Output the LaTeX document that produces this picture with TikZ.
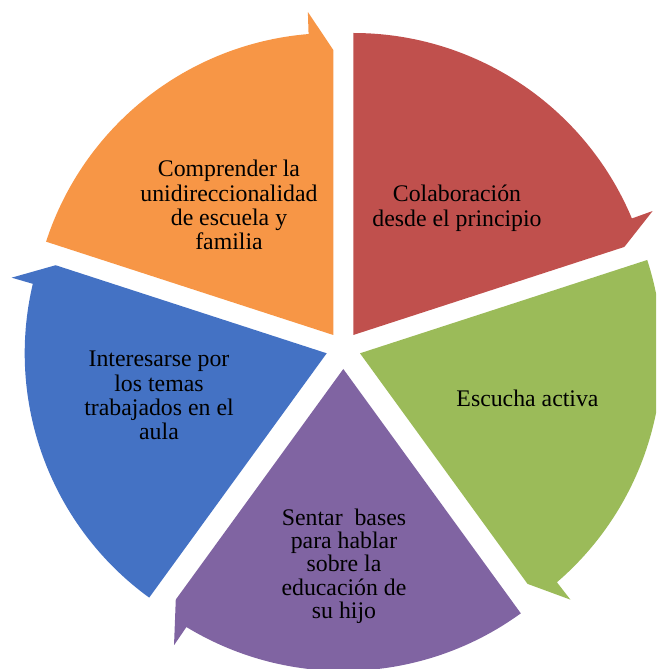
\documentclass[tikz,border=0pt]{standalone}
\usepackage{fontspec}
\setmainfont{Liberation Serif}
\definecolor{segred}{HTML}{C0504D}
\definecolor{seggreen}{HTML}{9BBB59}
\definecolor{segpurple}{HTML}{8064A2}
\definecolor{segblue}{HTML}{4472C4}
\definecolor{segorange}{HTML}{F79646}
\tikzset{
  lbl/.style={font=\fontsize{23.8}{24.2}\selectfont, align=center, inner sep=0pt, anchor=north, text=black},
  lblp/.style={font=\fontsize{23.8}{23.3}\selectfont, align=center, inner sep=0pt, anchor=north, text=black},
}
\newcommand{\tstrut}{\rule{0pt}{21pt}}
\begin{document}
\begin{tikzpicture}[x=1pt,y=1pt]
\useasboundingbox (0,0) rectangle (656,669);
\clip (0,0) rectangle (656,669);
% apices of the segments
\coordinate (pr) at (353.3,334);
\coordinate (pg) at (360,315.7);
\coordinate (pp) at (343.3,300);
\coordinate (pb) at (326.7,315.7);
\coordinate (po) at (333.3,334);
% segments
\fill[segred, shift={(pr)}] (0,0) -- (90:302) arc[start angle=90, end angle=22.7, radius=302] -- (22.5:324) -- (18:285) -- cycle;
\fill[seggreen, shift={(pg)}] (0,0) -- (18:302) arc[start angle=18, end angle=-49.3, radius=302] -- (-49.5:324) -- (-54:285) -- cycle;
\fill[segpurple, shift={(pp)}] (0,0) -- (-54:302) arc[start angle=-54, end angle=-121.3, radius=302] -- (-121.5:324) -- (-126:285) -- cycle;
\fill[segblue, shift={(pb)}] (0,0) -- (-126:302) arc[start angle=-126, end angle=-193.3, radius=302] -- (-193.5:324) -- (-198:285) -- cycle;
\fill[segorange, shift={(po)}] (0,0) -- (162:302) arc[start angle=162, end angle=94.7, radius=302] -- (94.5:324) -- (90:285) -- cycle;
% labels
\node[lbl] (tr) at (457,488.3) {\tstrut Colaboración\\desde el principio};
\node[lbl] (tg) at (527.5,284) {\tstrut Escucha activa};
\node[lblp] (tp) at (344,165) {\tstrut Sentar\ \ bases\\para hablar\\sobre la\\educación de\\su hijo};
\node[lbl] (tb) at (159,323.3) {\tstrut Interesarse por\\los temas\\trabajados en el\\aula};
\node[lbl] (to) at (229,513.3) {\tstrut Comprender la\\unidireccionalidad\\de escuela y\\familia};
\end{tikzpicture}
\end{document}
